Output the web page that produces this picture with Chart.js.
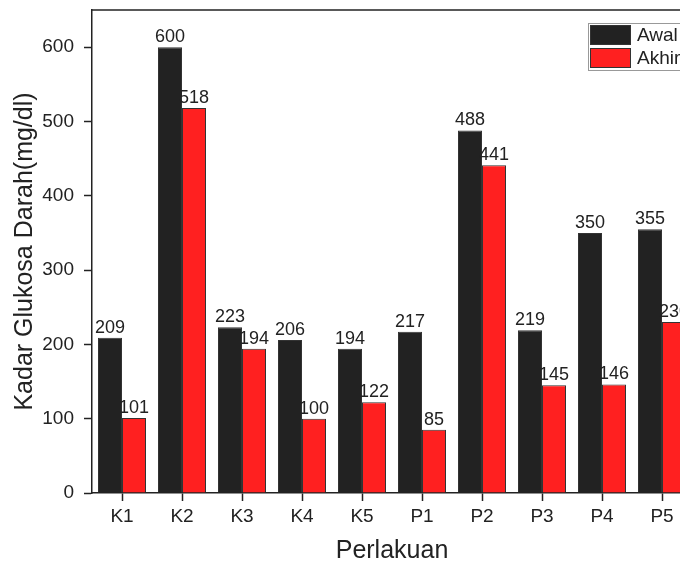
<!DOCTYPE html>
<html>
<head>
<meta charset="utf-8">
<script src="https://cdn.jsdelivr.net/npm/chart.js@4/dist/chart.umd.min.js"></script>
<style>
  html, body { margin: 0; padding: 0; background: #fff; }
  #wrap { width: 680px; height: 566px; overflow: hidden; position: relative; }
  canvas { position: absolute; left: 0; top: 0; }
</style>
</head>
<body>
<div id="wrap"><canvas id="glukosaChart" width="720" height="566"></canvas></div>
<script>
// data
const perlakuan = ['K1', 'K2', 'K3', 'K4', 'K5', 'P1', 'P2', 'P3', 'P4', 'P5'];
const awal = [209, 600, 223, 206, 194, 217, 488, 219, 350, 355];
const akhir = [101, 518, 194, 100, 122, 85, 441, 145, 146, 230];
const yTicks = [0, 100, 200, 300, 400, 500, 600];

const fontFam = "'Liberation Sans', Arial, sans-serif";
const black = '#222222';
const red = '#ff2020';

// value labels over each bar
const valueLabels = {
    id: 'valueLabels',
    afterDatasetsDraw(chart) {
        const ctx = chart.ctx;
        ctx.save();
        ctx.font = '18px ' + fontFam;
        ctx.fillStyle = '#222';
        ctx.textAlign = 'center';
        ctx.textBaseline = 'bottom';
        chart.data.datasets.forEach(function (ds, i) {
            chart.getDatasetMeta(i).data.forEach(function (bar, j) {
                ctx.fillText(ds.data[j], bar.x, bar.y - 1);
            });
        });
        ctx.restore();
    }
};

// top frame line + legend box inside the plot
const frameAndLegend = {
    id: 'frameAndLegend',
    afterDraw(chart) {
        const ctx = chart.ctx;
        const a = chart.chartArea;
        ctx.save();
        ctx.strokeStyle = '#222';
        ctx.lineWidth = 1.5;
        ctx.beginPath();
        ctx.moveTo(a.left, a.top);
        ctx.lineTo(a.right, a.top);
        ctx.stroke();

        let bx = a.right - 104, by = a.top + 13;
        ctx.lineWidth = 1;
        ctx.strokeStyle = '#999';
        ctx.fillStyle = '#fff';
        ctx.fillRect(bx, by, 110, 47);
        ctx.strokeRect(bx + 0.5, by + 0.5, 110, 47);
        ctx.font = '19px ' + fontFam;
        ctx.textBaseline = 'middle';
        ctx.textAlign = 'left';
        chart.data.datasets.forEach(function (ds, i) {
            let sy = by + 2 + i * 23;
            ctx.fillStyle = ds.backgroundColor;
            ctx.fillRect(bx + 2, sy, 41, 20);
            ctx.strokeStyle = '#333';
            ctx.strokeRect(bx + 2.5, sy + 0.5, 40, 19);
            ctx.fillStyle = '#222';
            ctx.fillText(ds.label, bx + 49, sy + 11);
        });
        ctx.restore();
    }
};

new Chart(document.getElementById('glukosaChart'), {
    type: 'bar',
    data: {
        labels: perlakuan,
        datasets: [{
            label: 'Awal',
            data: awal,
            backgroundColor: black,
            borderColor: '#333',
            borderWidth: 1
        }, {
            label: 'Akhir',
            data: akhir,
            backgroundColor: red,
            borderColor: '#333',
            borderWidth: 1
        }]
    },
    options: {
        responsive: false,
        animation: false,
        devicePixelRatio: 1,
        layout: { padding: { top: 10, right: 28, left: 0, bottom: 0 } },
        categoryPercentage: 0.8,
        barPercentage: 1.0,
        plugins: {
            legend: { display: false },
            tooltip: { enabled: false }
        },
        scales: {
            x: {
                grid: { display: true, offset: false, drawOnChartArea: false, drawTicks: true, tickLength: 8, tickColor: '#222', tickWidth: 1.5 },
                border: { color: '#222', width: 1.5 },
                ticks: { color: '#222', font: { family: fontFam, size: 19 }, padding: 4, maxRotation: 0 },
                title: {
                    display: true, text: 'Perlakuan', color: '#222',
                    font: { family: fontFam, size: 25 }, padding: { top: 0, bottom: 0 }
                },
                afterFit(scale) { scale.height = 73; }
            },
            y: {
                min: 0,
                max: 650,
                afterBuildTicks(scale) {
                    scale.ticks = yTicks.map(function (v) { return { value: v }; });
                },
                grid: { display: true, drawOnChartArea: false, drawTicks: true, tickLength: 8, tickColor: '#222', tickWidth: 1.5 },
                border: { color: '#222', width: 1.5 },
                ticks: { color: '#222', font: { family: fontFam, size: 19 }, padding: 10 },
                title: {
                    display: true, text: 'Kadar Glukosa Darah(mg/dl)', color: '#222',
                    font: { family: fontFam, size: 25 }, padding: { top: 10, bottom: 0 }
                },
                afterFit(scale) {
                    scale.width = 92;
                    scale.paddingTop = 0;
                    scale.paddingBottom = 0;
                }
            }
        }
    },
    plugins: [valueLabels, frameAndLegend]
});
</script>
</body>
</html>
